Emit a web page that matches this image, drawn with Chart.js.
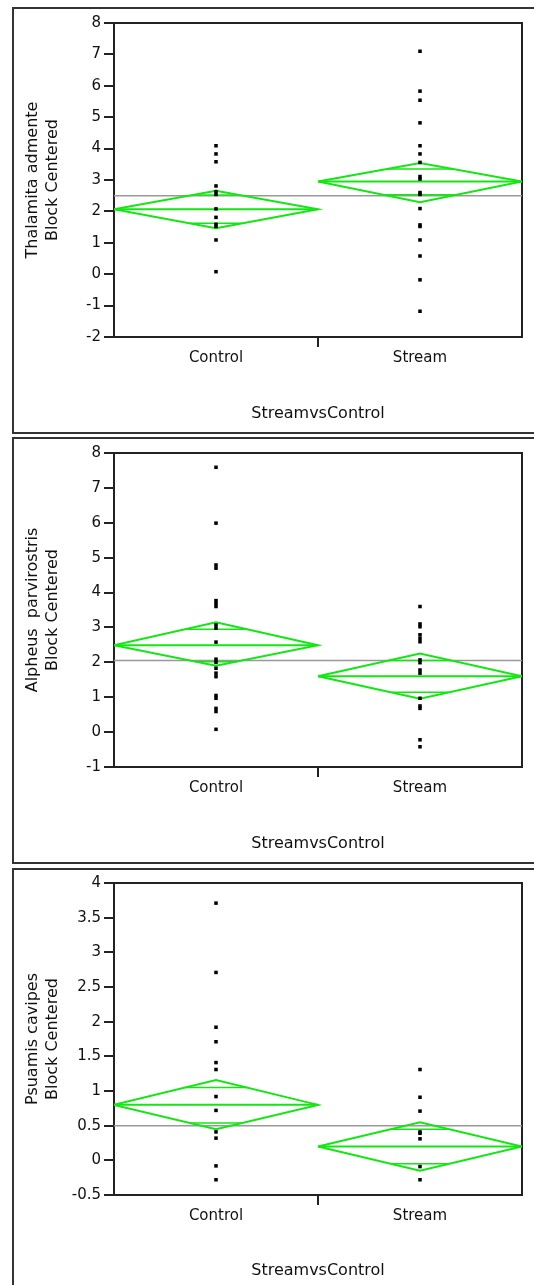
<!DOCTYPE html>
<html>
<head>
<meta charset="utf-8">
<script src="https://cdn.jsdelivr.net/npm/chart.js@4"></script>
<style>
body { margin:0; background:#fff; width:534px; height:1285px; overflow:hidden; position:relative; }
.frame { position:absolute; left:12px; width:600px; border:2px solid #333; box-sizing:border-box; }
canvas { position:absolute; left:0; }
</style>
</head>
<body>
<div class="frame" style="top:7px;height:427px"></div>
<div class="frame" style="top:437px;height:427px"></div>
<div class="frame" style="top:868px;height:440px"></div>
<canvas id="chart1" width="534" height="425" style="top:8px"></canvas>
<canvas id="chart2" width="534" height="425" style="top:438px"></canvas>
<canvas id="chart3" width="534" height="416" style="top:869px"></canvas>
<script>
// categories
const groups = ['Control', 'Stream'];

// Thalamita admente
const thalControl = [4.09, 3.83, 3.58, 2.81, 2.63, 2.54, 2.08, 1.81, 1.59, 1.52, 1.09, 0.08];
const thalStream = [7.10, 5.83, 5.54, 4.82, 4.09, 3.83, 3.56, 3.11, 3.03, 2.60, 2.54, 2.09, 1.57, 1.52, 1.09, 0.58, -0.18, -1.18];
const thalMean = [2.07, 2.95];
const thalUpper = [2.66, 3.54];
const thalLower = [1.46, 2.29];
const thalOverlap = [[2.52, 1.62], [3.35, 2.53]];
const thalGrand = 2.50;
const thalTicks = [-2, -1, 0, 1, 2, 3, 4, 5, 6, 7, 8];

// Alpheus parvirostris
const alphControl = [7.59, 5.99, 4.79, 4.70, 3.77, 3.69, 3.60, 3.07, 2.98, 2.58, 2.09, 2.00, 1.83, 1.69, 1.59, 1.05, 0.97, 0.68, 0.59, 0.08];
const alphStream = [3.60, 3.10, 3.02, 2.79, 2.69, 2.59, 2.07, 1.99, 1.78, 1.69, 0.97, 0.75, 0.68, -0.22, -0.42];
const alphMean = [2.49, 1.60];
const alphUpper = [3.15, 2.25];
const alphLower = [1.90, 0.96];
const alphOverlap = [[2.95, 2.02], [2.05, 1.14]];
const alphGrand = 2.05;
const alphTicks = [-1, 0, 1, 2, 3, 4, 5, 6, 7, 8];

// Psuamis cavipes
const psuaControl = [3.71, 2.71, 1.92, 1.71, 1.41, 1.31, 0.92, 0.72, 0.41, 0.32, -0.08, -0.28];
const psuaStream = [1.31, 0.91, 0.71, 0.41, 0.39, 0.31, -0.09, -0.28];
const psuaMean = [0.80, 0.20];
const psuaUpper = [1.16, 0.55];
const psuaLower = [0.45, -0.15];
const psuaOverlap = [[1.05, 0.54], [0.45, -0.05]];
const psuaGrand = 0.50;
const psuaTicks = [-0.5, 0, 0.5, 1, 1.5, 2, 2.5, 3, 3.5, 4];

const green = '#14e614';
const ink = '#222';

Chart.defaults.color = '#111';
Chart.defaults.font.family = '"DejaVu Sans", sans-serif';

const plotBox = {
    id: 'plotBox',
    beforeDatasetsDraw(chart){
        const a = chart.chartArea;
        const ctx = chart.ctx;
        ctx.save();
        ctx.strokeStyle = ink;
        ctx.lineWidth = 2;
        ctx.strokeRect(a.left, a.top, a.right - a.left, a.bottom - a.top);
        ctx.restore();
    }
};

function line(pts, color, width, order){
    return {
        type: 'line', data: pts, borderColor: color, borderWidth: width,
        pointRadius: 0, fill: false, tension: 0, order: order
    };
}

function makeChart(id, cols, mean, upper, lower, overlap, grand, yTicks, yTitle, opts){
    let datasets = [];
    let pts = [];
    for (let g = 0; g < cols.length; g++){
        for (let v of cols[g]) pts.push({x: g, y: v});
    }
    datasets.push({
        type: 'scatter', data: pts, pointStyle: 'rect', pointRadius: 2.5,
        backgroundColor: '#000', borderWidth: 0, order: 0
    });
    for (let g = 0; g < groups.length; g++){
        datasets.push(line([
            {x: g - 0.5, y: mean[g]}, {x: g, y: upper[g]}, {x: g + 0.5, y: mean[g]},
            {x: g, y: lower[g]}, {x: g - 0.5, y: mean[g]}
        ], green, 2, 1));
        datasets.push(line([{x: g - 0.5, y: mean[g]}, {x: g + 0.5, y: mean[g]}], green, 2, 1));
        for (let h of overlap[g]){
            let span = h > mean[g] ? upper[g] - mean[g] : mean[g] - lower[g];
            let half = 0.5 * (1 - Math.abs(h - mean[g]) / span);
            datasets.push(line([{x: g - half, y: h}, {x: g + half, y: h}], green, 1.5, 1));
        }
    }
    datasets.push(line([{x: -0.5, y: grand}, {x: 1.5, y: grand}], '#999', 1.5, 2));

    new Chart(document.getElementById(id), {
        type: 'scatter',
        data: { datasets: datasets },
        plugins: [plotBox],
        options: {
            responsive: false,
            animation: false,
            layout: { padding: { top: opts.top, right: 12, left: 0, bottom: 0 } },
            plugins: { legend: { display: false }, tooltip: { enabled: false } },
            scales: {
                x: {
                    type: 'linear', min: -0.5, max: 1.5,
                    afterBuildTicks: function(scale){ scale.ticks = [{value: 0}, {value: 0.5}, {value: 1}]; },
                    afterFit: function(scale){ scale.height = opts.xh; },
                    border: { display: false },
                    grid: {
                        drawOnChartArea: false, tickLength: 10, lineWidth: 2,
                        color: function(c){ return c.tick && c.tick.value === 0.5 ? ink : 'rgba(0,0,0,0)'; }
                    },
                    ticks: {
                        autoSkip: false, maxRotation: 0, padding: 2,
                        font: { size: 15 },
                        callback: function(v){ return groups[v] !== undefined ? groups[v] : ''; }
                    },
                    title: {
                        display: true, text: 'StreamvsControl',
                        font: { size: 16 }, padding: { bottom: opts.tb, top: 0 }
                    }
                },
                y: {
                    min: yTicks[0], max: yTicks[yTicks.length - 1],
                    afterBuildTicks: function(scale){ scale.ticks = yTicks.map(function(v){ return {value: v}; }); },
                    afterFit: function(scale){ scale.width = 114; },
                    border: { display: false },
                    grid: { drawOnChartArea: false, tickLength: 10, lineWidth: 2, color: ink },
                    ticks: {
                        padding: 3, font: { size: 15 },
                        callback: function(v){ return String(v); }
                    },
                    title: {
                        display: true, text: yTitle,
                        font: { size: 16, lineHeight: 1.25 }, padding: { top: 23, bottom: 0 }
                    }
                }
            }
        }
    });
}

makeChart('chart1', [thalControl, thalStream], thalMean, thalUpper, thalLower, thalOverlap, thalGrand,
    thalTicks, ['Thalamita admente', 'Block Centered'], {top: 15, xh: 96, tb: 10});
makeChart('chart2', [alphControl, alphStream], alphMean, alphUpper, alphLower, alphOverlap, alphGrand,
    alphTicks, ['Alpheus  parvirostris', 'Block Centered'], {top: 15, xh: 96, tb: 10});
makeChart('chart3', [psuaControl, psuaStream], psuaMean, psuaUpper, psuaLower, psuaOverlap, psuaGrand,
    psuaTicks, ['Psuamis cavipes', 'Block Centered'], {top: 14, xh: 90, tb: 5});
</script>
</body>
</html>
